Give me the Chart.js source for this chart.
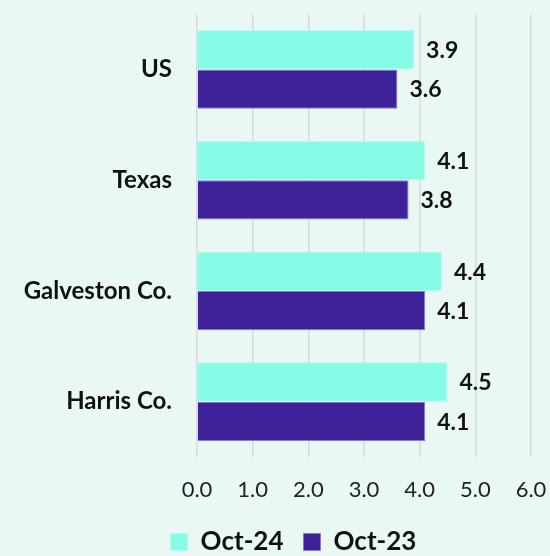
<!DOCTYPE html>
<html>
<head>
<meta charset="utf-8">
<script src="https://cdn.jsdelivr.net/npm/chart.js@4"></script>
<style>
  html, body { margin: 0; padding: 0; background: #E9F8F2; }
  #wrap { width: 550px; height: 556px; position: relative; }
</style>
</head>
<body>
<div id="wrap"><canvas id="rate-chart"></canvas></div>
<script>
let categories = ['US', 'Texas', 'Galveston Co.', 'Harris Co.'];
let oct24 = [3.9, 4.1, 4.4, 4.5];
let oct23 = [3.6, 3.8, 4.1, 4.1];
let seriesNames = ['Oct-24', 'Oct-23'];
let xTicks = [0, 1, 2, 3, 4, 5, 6];

let ctx = document.getElementById('rate-chart').getContext('2d');

// draws the value just past the end of each bar
let valueLabels = {
    id: 'valueLabels',
    afterDatasetsDraw(chart) {
        let c = chart.ctx;
        c.save();
        c.font = 'bold 23px Lato';
        c.fillStyle = '#111111';
        c.textAlign = 'left';
        c.textBaseline = 'middle';
        chart.data.datasets.forEach((ds, i) => {
            chart.getDatasetMeta(i).data.forEach((bar, j) => {
                c.fillText(ds.data[j].toFixed(1), bar.x + 12, bar.y + 1);
            });
        });
        c.restore();
    }
};

// legend sits a bit right of the canvas centre in the original
let legendShift = {
    id: 'legendShift',
    afterLayout(chart) {
        chart.legend.left += 56;
    }
};

let rateChart = new Chart(ctx, {
    type: 'bar',
    data: {
        labels: categories,
        datasets: [{
            label: seriesNames[0],
            data: oct24,
            backgroundColor: '#86FCE6',
            borderColor: '#B5FDF0',
            borderWidth: 1
        }, {
            label: seriesNames[1],
            data: oct23,
            backgroundColor: '#3F2199',
            borderColor: '#8A78D0',
            borderWidth: 1
        }]
    },
    options: {
        indexAxis: 'y',
        responsive: true,
        maintainAspectRatio: false,
        animation: false,
        datasets: { bar: { categoryPercentage: 0.71, barPercentage: 1.0 } },
        layout: { padding: { top: 14, right: 19, left: 0, bottom: -9 } },
        scales: {
            x: {
                min: 0,
                max: 6,
                afterBuildTicks: (scale) => { scale.ticks = xTicks.map(v => ({ value: v })); },
                afterFit: (scale) => {
                    scale.height = 52;
                    scale.paddingLeft = 0;
                    scale.paddingRight = 0;
                },
                grid: { color: '#D9D9D9', lineWidth: 1.5, drawTicks: false },
                border: { display: false },
                ticks: {
                    padding: 20,
                    color: '#222222',
                    font: { family: 'Lato', size: 22 },
                    callback: (v) => Number(v).toFixed(1)
                }
            },
            y: {
                afterFit: (scale) => {
                    scale.width = 197;
                    scale.paddingTop = 0;
                    scale.paddingBottom = 0;
                },
                grid: { display: false, drawTicks: false },
                border: { display: false },
                ticks: {
                    padding: 25,
                    color: '#111111',
                    font: { family: 'Lato', size: 24, weight: 'bold' }
                }
            }
        },
        plugins: {
            legend: {
                position: 'bottom',
                labels: {
                    boxWidth: 17,
                    boxHeight: 17,
                    padding: 20,
                    color: '#111111',
                    font: { family: 'Lato', size: 26, weight: 'bold' }
                }
            },
            tooltip: { enabled: false }
        }
    },
    plugins: [valueLabels, legendShift]
});
</script>
</body>
</html>
